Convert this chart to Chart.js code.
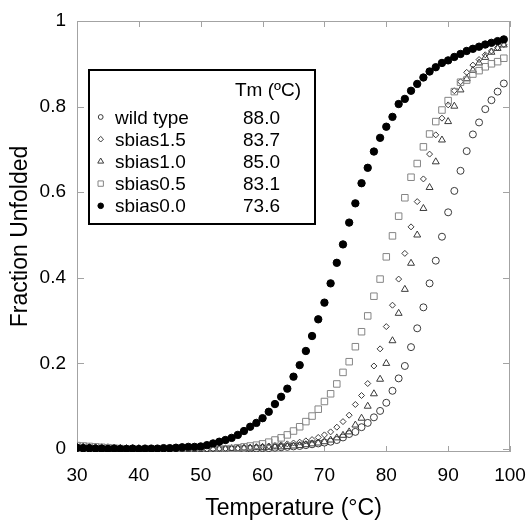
<!DOCTYPE html>
<html>
<head>
<meta charset="utf-8">
<script src="https://cdn.jsdelivr.net/npm/chart.js@4.4.0/dist/chart.umd.min.js"></script>
<style>
html,body{margin:0;padding:0;background:#fff;}
canvas{display:block;}
</style>
</head>
<body>
<canvas id="c" width="529" height="521"></canvas>
<script>
// ---- data ----
const temperatures = [30,31,32,33,34,35,36,37,38,39,40,41,42,43,44,45,46,47,48,49,
  50,51,52,53,54,55,56,57,58,59,60,61,62,63,64,65,66,67,68,69,
  70,71,72,73,74,75,76,77,78,79,80,81,82,83,84,85,86,87,88,89,
  90,91,92,93,94,95,96,97,98,99];

const wildType = [0.002,0.002,0.001,0.001,0.001,0.000,0.000,0.000,0.000,0.000,
  -0.001,-0.001,-0.001,-0.001,-0.001,-0.001,-0.002,-0.002,-0.002,-0.002,
  -0.002,-0.002,-0.002,-0.001,-0.001,-0.001,0.000,0.000,0.001,0.001,
  0.002,0.002,0.003,0.004,0.005,0.006,0.007,0.009,0.011,0.013,
  0.015,0.017,0.021,0.027,0.035,0.040,0.051,0.061,0.074,0.089,
  0.108,0.136,0.165,0.194,0.238,0.282,0.331,0.387,0.440,0.496,
  0.553,0.603,0.650,0.696,0.735,0.763,0.794,0.815,0.835,0.854];

const sbias15 = [0.004,0.004,0.003,0.003,0.003,0.002,0.002,0.002,0.001,0.001,
  0.001,0.000,0.000,0.000,-0.001,-0.001,-0.001,-0.001,-0.001,0.000,
  0.000,0.000,0.000,0.001,0.001,0.002,0.002,0.003,0.004,0.005,
  0.006,0.007,0.008,0.010,0.012,0.014,0.016,0.019,0.022,0.027,
  0.033,0.040,0.051,0.064,0.079,0.104,0.125,0.153,0.194,0.234,
  0.286,0.336,0.397,0.457,0.519,0.578,0.631,0.689,0.734,0.773,
  0.804,0.837,0.858,0.880,0.897,0.910,0.921,0.930,0.938,0.945];

const sbias10 = [0.006,0.005,0.004,0.004,0.003,0.003,0.002,0.002,0.001,0.001,
  0.001,0.000,0.000,0.000,0.000,-0.001,-0.001,-0.001,-0.001,-0.001,
  -0.001,-0.001,0.000,0.000,0.000,0.001,0.001,0.002,0.002,0.003,
  0.003,0.004,0.005,0.005,0.006,0.007,0.008,0.010,0.012,0.014,
  0.017,0.021,0.026,0.032,0.040,0.056,0.072,0.100,0.129,0.163,
  0.200,0.253,0.317,0.373,0.434,0.500,0.562,0.611,0.671,0.722,
  0.765,0.801,0.839,0.865,0.885,0.902,0.915,0.927,0.936,0.944];

const sbias05 = [0.008,0.007,0.006,0.005,0.004,0.003,0.002,0.001,0.000,-0.001,
  -0.002,-0.003,-0.003,-0.004,-0.004,-0.004,-0.004,-0.004,-0.003,-0.003,
  -0.003,-0.002,-0.002,-0.001,0.000,0.001,0.003,0.005,0.007,0.009,
  0.012,0.016,0.021,0.026,0.033,0.042,0.052,0.064,0.077,0.093,
  0.111,0.129,0.152,0.179,0.204,0.239,0.274,0.311,0.357,0.397,
  0.449,0.498,0.544,0.587,0.635,0.667,0.706,0.736,0.765,0.792,
  0.814,0.835,0.857,0.862,0.876,0.884,0.893,0.900,0.905,0.913];

const sbias00 = [0.003,0.002,0.002,0.001,0.001,0.000,0.001,0.000,0.000,0.001,
  0.000,0.001,0.001,0.001,0.002,0.002,0.003,0.004,0.005,0.005,
  0.006,0.009,0.013,0.017,0.021,0.026,0.033,0.042,0.052,0.061,
  0.072,0.087,0.105,0.122,0.141,0.169,0.196,0.229,0.264,0.303,
  0.342,0.387,0.435,0.478,0.529,0.574,0.621,0.657,0.695,0.727,
  0.753,0.776,0.806,0.818,0.837,0.853,0.868,0.882,0.892,0.902,
  0.908,0.916,0.923,0.930,0.935,0.940,0.945,0.949,0.953,0.957];

const seriesNames = ['wild type', 'sbias1.5', 'sbias1.0', 'sbias0.5', 'sbias0.0'];
const tmValues = ['88.0', '83.7', '85.0', '83.1', '73.6'];
const tmHeader = 'Tm (\u00BAC)';
const xTickValues = [30, 40, 50, 60, 70, 80, 90, 100];
const yTickValues = [0, 0.2, 0.4, 0.6, 0.8, 1];
const xTitle = 'Temperature (\u00B0C)';
const yTitle = 'Fraction Unfolded';

// ---- styles ----
const FONT = '"Liberation Sans", Arial, Helvetica, sans-serif';
const styles = [
  {pointStyle: 'circle',  radius: 3.5, legendRadius: 2.4, bg: 'rgba(0,0,0,0)', border: '#3a3a3a', order: 4},
  {pointStyle: 'rectRot', radius: 3.0, legendRadius: 2.8, bg: 'rgba(0,0,0,0)', border: '#3a3a3a', order: 3},
  {pointStyle: 'triangle',radius: 4.0, legendRadius: 3.4, bg: 'rgba(0,0,0,0)', border: '#3a3a3a', order: 2},
  {pointStyle: 'rect',    radius: 4.6, legendRadius: 3.8, bg: 'rgba(0,0,0,0)', border: '#858585', order: 1},
  {pointStyle: 'circle',  radius: 3.7, legendRadius: 2.8, bg: '#000000', border: '#000000', order: 0}
];
const seriesValues = [wildType, sbias15, sbias10, sbias05, sbias00];

const datasets = seriesValues.map((vals, i) => ({
  label: seriesNames[i],
  data: vals.map((v, k) => ({x: temperatures[k], y: v})),
  pointStyle: styles[i].pointStyle,
  pointRadius: styles[i].radius,
  pointBackgroundColor: styles[i].bg,
  pointBorderColor: styles[i].border,
  pointBorderWidth: 1,
  showLine: false,
  order: styles[i].order
}));

// frame with inward ticks on all four sides
const framePlugin = {
  id: 'frame',
  beforeDatasetsDraw(chart) {
    const {ctx, chartArea: a, scales: {x, y}} = chart;
    ctx.save();
    ctx.strokeStyle = '#a3a3a3';
    ctx.lineWidth = 1;
    ctx.strokeRect(a.left + 0.5, a.top + 0.5, a.right - a.left - 1, a.bottom - a.top - 1);
    ctx.beginPath();
    xTickValues.forEach(v => {
      const px = Math.round(x.getPixelForValue(v)) + 0.5;
      ctx.moveTo(px, a.bottom); ctx.lineTo(px, a.bottom - 6);
      ctx.moveTo(px, a.top); ctx.lineTo(px, a.top + 6);
    });
    yTickValues.forEach(v => {
      const py = Math.round(y.getPixelForValue(v)) + 0.5;
      ctx.moveTo(a.left, py); ctx.lineTo(a.left + 7, py);
      ctx.moveTo(a.right, py); ctx.lineTo(a.right - 7, py);
    });
    ctx.stroke();
    ctx.restore();
  }
};

function drawMarker(ctx, st, r, x, y) {
  const opts = {pointStyle: st.pointStyle, radius: r, rotation: 0, borderWidth: 1};
  ctx.fillStyle = st.bg;
  ctx.strokeStyle = st.border;
  ctx.lineWidth = 1;
  if (Chart.helpers && Chart.helpers.drawPoint) {
    Chart.helpers.drawPoint(ctx, opts, x, y);
  } else {
    ctx.beginPath(); ctx.arc(x, y, r, 0, Math.PI * 2); ctx.fill(); ctx.stroke();
  }
}

// table-like legend
const legendPlugin = {
  id: 'tableLegend',
  afterDraw(chart) {
    const {ctx, chartArea: a} = chart;
    const bx = a.left + 12, by = a.top + 49, bw = 226, bh = 154;
    ctx.save();
    ctx.fillStyle = '#fff';
    ctx.fillRect(bx, by, bw, bh);
    ctx.lineWidth = 2;
    ctx.strokeStyle = '#000';
    ctx.strokeRect(bx, by, bw, bh);
    ctx.fillStyle = '#000';
    ctx.font = '19px ' + FONT;
    ctx.textBaseline = 'alphabetic';
    ctx.textAlign = 'left';
    ctx.fillText(tmHeader, bx + 146, by + 26);
    for (let i = 0; i < seriesNames.length; i++) {
      const base = by + 53.5 + i * 22.2;
      drawMarker(ctx, styles[i], styles[i].legendRadius, bx + 11.7, base - 6.5);
      ctx.fillStyle = '#000';
      ctx.fillText(seriesNames[i], bx + 26, base);
      ctx.fillText(tmValues[i], bx + 154, base);
    }
    ctx.restore();
  }
};

new Chart(document.getElementById('c'), {
  type: 'scatter',
  data: {datasets},
  options: {
    responsive: false,
    animation: false,
    layout: {padding: {top: 21, right: 19, bottom: 0, left: 0}},
    plugins: {legend: {display: false}, tooltip: {enabled: false}},
    scales: {
      x: {
        type: 'linear', min: 30, max: 100,
        afterBuildTicks: s => { s.ticks = xTickValues.map(v => ({value: v})); },
        afterFit: s => { s.height = 69; s.paddingLeft = 0; s.paddingRight = 0; },
        grid: {display: false, drawTicks: false},
        border: {display: false},
        ticks: {padding: 12, color: '#000', font: {family: FONT, size: 19}, maxRotation: 0, autoSkip: false,
                callback: v => String(v)},
        title: {display: true, text: xTitle, color: '#000', font: {family: FONT, size: 23, lineHeight: 1}, padding: {top: 0, bottom: 1}}
      },
      y: {
        type: 'linear', min: -0.007, max: 1,
        afterBuildTicks: s => { s.ticks = yTickValues.map(v => ({value: v})); },
        afterFit: s => { s.width = 77; s.paddingTop = 0; s.paddingBottom = 0; },
        grid: {display: false, drawTicks: false},
        border: {display: false},
        ticks: {padding: 11, color: '#000', font: {family: FONT, size: 19}, autoSkip: false,
                callback: v => String(v)},
        title: {display: true, text: yTitle, color: '#000', font: {family: FONT, size: 23, lineHeight: 1}, padding: {top: 9, bottom: 0}}
      }
    }
  },
  plugins: [framePlugin, legendPlugin]
});
</script>
</body>
</html>
